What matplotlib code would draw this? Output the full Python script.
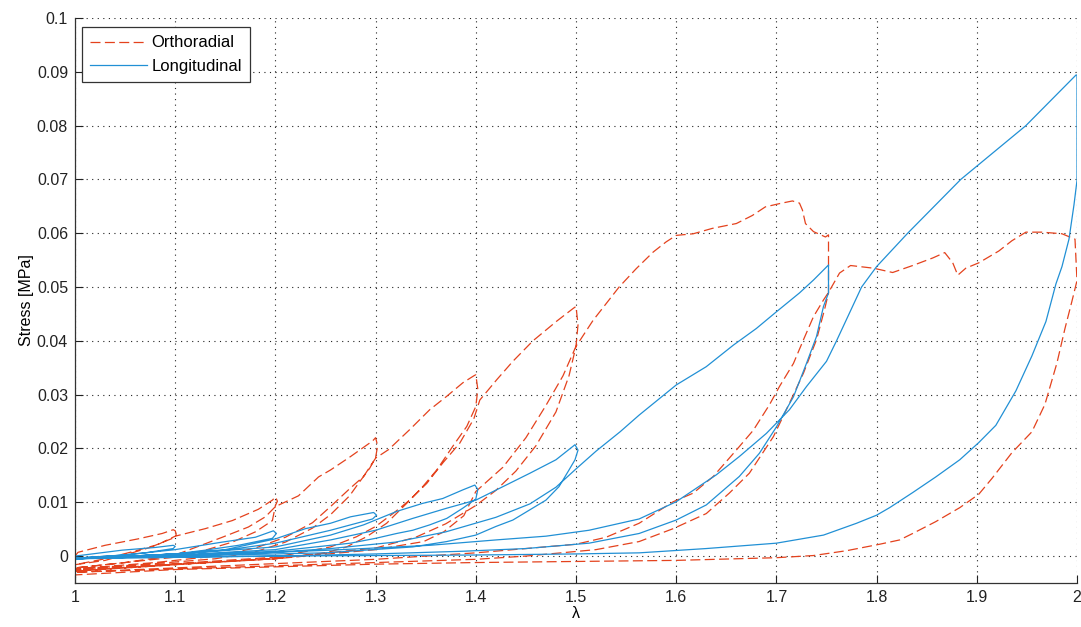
import matplotlib
matplotlib.use('Agg')
import matplotlib.pyplot as plt
import numpy as np

# stretch / stress points, one list per loading cycle
# Orthoradial (red, dashed)
orth_c1 = [(1.0, 0.0), (1.003, 0.0007), (1.03, 0.002), (1.063, 0.0032), (1.087, 0.0042), (1.098, 0.0049),
           (1.1, 0.0047), (1.101, 0.0041), (1.1, 0.0035), (1.08, 0.002), (1.057, 0.0008), (1.03, -0.0005),
           (1.0, -0.0016)]
orth_c2 = [(1.0, -0.0016), (1.03, -0.0008), (1.057, 0.0006), (1.08, 0.0019), (1.1, 0.0037), (1.13, 0.0051),
           (1.157, 0.0066), (1.183, 0.0087), (1.197, 0.0104), (1.2, 0.011), (1.202, 0.0102), (1.2, 0.0094),
           (1.197, 0.0066), (1.18, 0.0045), (1.157, 0.0026), (1.13, 0.0011), (1.1, -0.0002), (1.05, -0.0012),
           (1.0, -0.0022)]
orth_c3 = [(1.0, -0.0022), (1.05, -0.0012), (1.1, 0.0002), (1.123, 0.0018), (1.147, 0.0035), (1.173, 0.0054),
           (1.19, 0.0073), (1.2, 0.0092), (1.223, 0.0112), (1.243, 0.0147), (1.255, 0.016), (1.275, 0.0185),
           (1.297, 0.0214), (1.3, 0.022), (1.302, 0.0205), (1.3, 0.0183), (1.294, 0.0163), (1.284, 0.0138),
           (1.274, 0.0112), (1.255, 0.0077), (1.237, 0.0052), (1.21, 0.0026), (1.18, 0.0008), (1.14, -0.0005),
           (1.08, -0.0014), (1.0, -0.0024)]
orth_c4 = [(1.0, -0.0024), (1.08, -0.0012), (1.14, 0.0), (1.18, 0.0015), (1.21, 0.0035), (1.237, 0.0062),
           (1.255, 0.0092), (1.274, 0.0125), (1.288, 0.0148), (1.3, 0.0182), (1.313, 0.0198), (1.334, 0.0235),
           (1.354, 0.0272), (1.371, 0.0297), (1.387, 0.0322), (1.398, 0.0335), (1.4, 0.0337), (1.402, 0.031),
           (1.4, 0.0278), (1.391, 0.0241), (1.377, 0.0204), (1.361, 0.016), (1.347, 0.0129), (1.331, 0.0098),
           (1.311, 0.0061), (1.291, 0.0036), (1.271, 0.0017), (1.25, 0.0006), (1.2, -0.0005), (1.1, -0.0015),
           (1.0, -0.0026)]
orth_c5 = [(1.0, -0.0026), (1.1, -0.0014), (1.2, -0.0002), (1.255, 0.0017), (1.281, 0.0036), (1.3, 0.0055),
           (1.318, 0.008), (1.334, 0.0104), (1.351, 0.0135), (1.367, 0.0173), (1.384, 0.021), (1.398, 0.0255),
           (1.404, 0.029), (1.421, 0.0328), (1.437, 0.0362), (1.457, 0.04), (1.481, 0.0437), (1.497, 0.046),
           (1.5, 0.0464), (1.502, 0.043), (1.5, 0.039), (1.493, 0.0335), (1.48, 0.0268), (1.46, 0.0205),
           (1.44, 0.0158), (1.42, 0.0122), (1.4, 0.0094), (1.37, 0.006), (1.34, 0.0035), (1.3, 0.0015),
           (1.2, -0.0004), (1.1, -0.0016), (1.0, -0.0028)]
orth_c6 = [(1.0, -0.0028), (1.1, -0.0016), (1.2, -0.0005), (1.3, 0.0012), (1.348, 0.0027), (1.368, 0.0045),
           (1.388, 0.0075), (1.4, 0.012), (1.427, 0.0165), (1.45, 0.022), (1.47, 0.028), (1.487, 0.0335),
           (1.5, 0.039), (1.504, 0.0401), (1.517, 0.0438), (1.53, 0.0469), (1.543, 0.05), (1.56, 0.0534),
           (1.577, 0.0565), (1.59, 0.0584), (1.6, 0.0596), (1.617, 0.0599), (1.636, 0.0609), (1.66, 0.0618),
           (1.676, 0.0633), (1.689, 0.0649), (1.703, 0.0655), (1.716, 0.066), (1.723, 0.0656), (1.726, 0.0643),
           (1.729, 0.0618), (1.737, 0.0603), (1.749, 0.0593), (1.752, 0.0597), (1.752, 0.0489),
           (1.748, 0.0458), (1.74, 0.0402), (1.727, 0.034), (1.713, 0.0284), (1.697, 0.0222), (1.673, 0.0154),
           (1.653, 0.0117), (1.63, 0.0079), (1.597, 0.0051), (1.563, 0.0027), (1.52, 0.0012), (1.45, 0.0),
           (1.4, -0.0006), (1.3, -0.0012), (1.2, -0.0018), (1.1, -0.0024), (1.0, -0.003)]
orth_c7 = [(1.0, -0.003), (1.1, -0.0022), (1.2, -0.0014), (1.3, -0.0006), (1.4, 0.0006), (1.5, 0.0022),
           (1.53, 0.0035), (1.563, 0.0061), (1.597, 0.0101), (1.617, 0.0117), (1.637, 0.0148), (1.66, 0.0197),
           (1.677, 0.0234), (1.693, 0.0281), (1.703, 0.0315), (1.717, 0.0358), (1.727, 0.0402), (1.737, 0.0445),
           (1.747, 0.0476), (1.752, 0.049), (1.763, 0.0526), (1.774, 0.054), (1.797, 0.0535), (1.816, 0.0527),
           (1.836, 0.054), (1.856, 0.0554), (1.868, 0.0564), (1.876, 0.0545), (1.881, 0.0522), (1.889, 0.0535),
           (1.902, 0.0545), (1.922, 0.0567), (1.935, 0.0586), (1.949, 0.0602), (1.965, 0.0602), (1.985, 0.0599),
           (1.998, 0.0589), (2.0, 0.0512), (1.995, 0.0474), (1.988, 0.0423), (1.98, 0.0359), (1.968, 0.0282),
           (1.955, 0.0231), (1.935, 0.0192), (1.915, 0.0144), (1.902, 0.0115), (1.883, 0.009), (1.859, 0.0064),
           (1.836, 0.0042), (1.823, 0.003), (1.803, 0.0022), (1.77, 0.001), (1.737, 0.0001), (1.7, -0.0003),
           (1.6, -0.0008), (1.5, -0.001), (1.4, -0.0012), (1.3, -0.0015), (1.2, -0.002), (1.1, -0.0025),
           (1.05, -0.003), (1.0, -0.0035)]

# Longitudinal (blue, solid)
long_c1 = [(1.0, 0.0), (1.047, 0.0011), (1.08, 0.0016), (1.098, 0.002), (1.1, 0.0018), (1.098, 0.0014),
           (1.07, 0.0006), (1.04, 0.0001), (1.0, -0.0004)]
long_c2 = [(1.0, -0.0004), (1.05, 0.0002), (1.1, 0.0012), (1.147, 0.0026), (1.18, 0.0035), (1.198, 0.0047),
           (1.201, 0.0042), (1.197, 0.0033), (1.163, 0.002), (1.13, 0.0011), (1.1, 0.0004), (1.05, -0.0001),
           (1.0, -0.0005)]
long_c3 = [(1.0, -0.0005), (1.1, 0.0004), (1.15, 0.0012), (1.2, 0.0032), (1.23, 0.0051), (1.255, 0.0061),
           (1.275, 0.0073), (1.298, 0.0081), (1.301, 0.0076), (1.297, 0.0069), (1.275, 0.0058), (1.255, 0.0048),
           (1.23, 0.0037), (1.2, 0.0024), (1.15, 0.0011), (1.1, 0.0004), (1.0, -0.0005)]
long_c4 = [(1.0, -0.0005), (1.1, 0.0004), (1.2, 0.0017), (1.255, 0.0039), (1.288, 0.0058), (1.321, 0.0083),
           (1.347, 0.0098), (1.367, 0.0107), (1.387, 0.0123), (1.399, 0.0132), (1.402, 0.0124), (1.4, 0.0106),
           (1.387, 0.0089), (1.371, 0.007), (1.354, 0.0058), (1.337, 0.0048), (1.321, 0.0042), (1.3, 0.0033),
           (1.275, 0.0024), (1.2, 0.0009), (1.1, 0.0001), (1.0, -0.0005)]
long_c5 = [(1.0, -0.0005), (1.1, 0.0002), (1.2, 0.0012), (1.255, 0.003), (1.3, 0.0048), (1.337, 0.007),
           (1.371, 0.0089), (1.4, 0.0104), (1.427, 0.0129), (1.454, 0.0154), (1.48, 0.0179), (1.499, 0.0207),
           (1.502, 0.0197), (1.499, 0.0179), (1.493, 0.016), (1.483, 0.0129), (1.47, 0.0104), (1.454, 0.0086),
           (1.437, 0.0067), (1.42, 0.0055), (1.4, 0.0039), (1.371, 0.0027), (1.337, 0.0017), (1.25, 0.0006),
           (1.1, 0.0), (1.0, -0.0005)]
long_c6 = [(1.0, -0.0005), (1.1, 0.0), (1.2, 0.0007), (1.255, 0.0014), (1.32, 0.0026), (1.37, 0.0045),
           (1.42, 0.0072), (1.454, 0.0097), (1.48, 0.0128), (1.5, 0.0162), (1.52, 0.0195), (1.544, 0.0231),
           (1.563, 0.0262), (1.6, 0.0318), (1.63, 0.0352), (1.657, 0.0392), (1.68, 0.0423), (1.7, 0.0454),
           (1.723, 0.0489), (1.737, 0.0513), (1.752, 0.0541), (1.752, 0.0489), (1.747, 0.0464), (1.74, 0.0408),
           (1.73, 0.0358), (1.717, 0.0296), (1.7, 0.024), (1.683, 0.0191), (1.663, 0.0148), (1.63, 0.0095),
           (1.6, 0.0067), (1.563, 0.0042), (1.513, 0.0024), (1.45, 0.0014), (1.387, 0.0009), (1.3, 0.0004),
           (1.2, 0.0), (1.0, -0.0005)]
long_c7 = [(1.0, -0.0005), (1.1, 0.0), (1.255, 0.0011), (1.354, 0.002), (1.42, 0.003), (1.47, 0.0037),
           (1.513, 0.0048), (1.563, 0.0069), (1.6, 0.0101), (1.64, 0.0151), (1.663, 0.0185), (1.69, 0.0228),
           (1.713, 0.0272), (1.73, 0.0315), (1.75, 0.0362), (1.76, 0.04), (1.785, 0.05), (1.8, 0.0538),
           (1.831, 0.06), (1.884, 0.07), (1.949, 0.08), (1.999, 0.0894), (2.0, 0.0894), (2.0, 0.0698),
           (1.997, 0.0653), (1.992, 0.0589), (1.985, 0.0538), (1.979, 0.0506), (1.969, 0.0436), (1.955, 0.0372),
           (1.939, 0.0307), (1.919, 0.0243), (1.902, 0.0211), (1.883, 0.0179), (1.859, 0.0147), (1.836, 0.0118),
           (1.813, 0.009), (1.8, 0.0076), (1.78, 0.0061), (1.747, 0.0039), (1.7, 0.0024), (1.63, 0.0014),
           (1.563, 0.0006), (1.5, 0.0004), (1.4, 0.0002), (1.2, 0.0), (1.0, -0.0003)]

x_ticks = [1.0, 1.1, 1.2, 1.3, 1.4, 1.5, 1.6, 1.7, 1.8, 1.9, 2.0]
x_labels = ['1', '1.1', '1.2', '1.3', '1.4', '1.5', '1.6', '1.7', '1.8', '1.9', '2']
y_ticks = [0, 0.01, 0.02, 0.03, 0.04, 0.05, 0.06, 0.07, 0.08, 0.09, 0.1]
y_labels = ['0', '0.01', '0.02', '0.03', '0.04', '0.05', '0.06', '0.07', '0.08', '0.09', '0.1']

orth = np.array(orth_c1 + orth_c2 + orth_c3 + orth_c4 + orth_c5 + orth_c6 + orth_c7)
longi = np.array(long_c1 + long_c2 + long_c3 + long_c4 + long_c5 + long_c6 + long_c7)

plt.rcParams['font.family'] = ['Liberation Sans', 'DejaVu Sans']
plt.rcParams['font.size'] = 11.5

fig = plt.figure(figsize=(10.81, 6.27), dpi=100)
ax = fig.add_axes([0.0694, 0.0702, 0.9269, 0.9011])

ax.plot(orth[:, 0], orth[:, 1], color='#E4421D', lw=0.9, dashes=(8, 3.5), label='Orthoradial')
ax.plot(longi[:, 0], longi[:, 1], color='#2190D5', lw=0.9, label='Longitudinal')

ax.set_xlim(1, 2)
ax.set_ylim(-0.005, 0.1)
ax.set_xticks(x_ticks)
ax.set_xticklabels(x_labels)
ax.set_yticks(y_ticks)
ax.set_yticklabels(y_labels)
ax.tick_params(direction='in', length=6, width=0.8, colors='#222222', labelsize=11.5, pad=5)
ax.grid(True, color='#222222', linestyle=(0, (1, 4)), linewidth=0.8)
ax.set_axisbelow(True)
for side in ['top', 'right']:
    ax.spines[side].set_visible(False)
for side in ['left', 'bottom']:
    ax.spines[side].set_color('#333333')
    ax.spines[side].set_linewidth(0.9)

ax.set_xlabel('λ', fontsize=11.5, labelpad=1)
ax.set_ylabel('Stress [MPa]', fontsize=11.5, labelpad=2)

leg = ax.legend(loc='upper left', bbox_to_anchor=(0.007, 0.984), fancybox=False, framealpha=1,
                edgecolor='#333333', handlelength=3.4, handletextpad=0.25, borderpad=0.5,
                labelspacing=0.5, borderaxespad=0, fontsize=12)
leg.get_frame().set_linewidth(0.9)

fig.savefig('out.png', dpi=100)
